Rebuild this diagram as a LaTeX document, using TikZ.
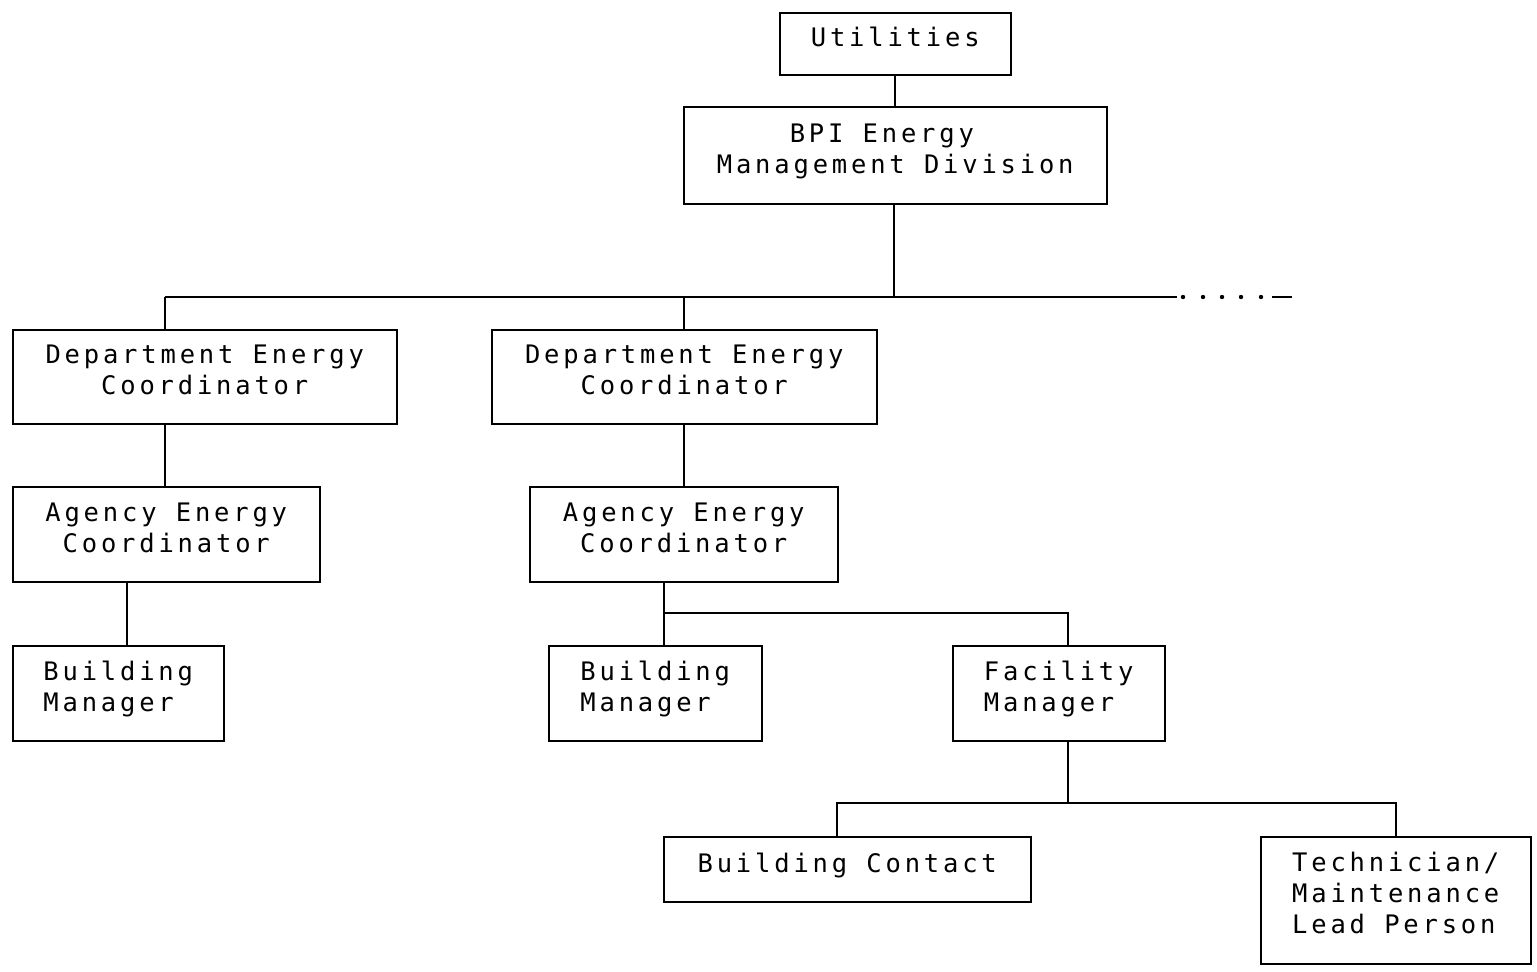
\documentclass[tikz,border=0pt]{standalone}
\usepackage{fontspec}
\newfontfamily\dotmx[LetterSpace=15]{DejaVu Sans Mono}
\tikzset{
  orgbox/.style={draw, line width=1.5pt, anchor=north west, inner sep=0pt,
    font=\dotmx\fontsize{25.5}{31}\selectfont,
    execute at end node={\rule[-14pt]{0pt}{14pt}}},
  conn/.style={line width=1.7pt},
}
\newcommand{\pad}[1]{\hphantom{#1}}
\begin{document}
\begin{tikzpicture}[x=1pt,y=-1pt]
\useasboundingbox (0,0) rectangle (1537,972);
% boxes
\node[orgbox, minimum width=231, minimum height=62, align=center] (util) at (779,12) {Utilities};
\node[orgbox, minimum width=423, minimum height=97, align=left] (bpi) at (683,106) {\pad{MMMM}BPI Energy\\Management Division};
\node[orgbox, minimum width=384, minimum height=94, align=center] (d1) at (12,329) {Department Energy\\Coordinator};
\node[orgbox, minimum width=385, minimum height=94, align=center] (d2) at (491,329) {Department Energy\\Coordinator};
\node[orgbox, minimum width=307, minimum height=95, align=center] (a1) at (12,486) {Agency Energy\\Coordinator};
\node[orgbox, minimum width=308, minimum height=95, align=center] (a2) at (529,486) {Agency Energy\\Coordinator};
\node[orgbox, minimum width=211, minimum height=95, align=left] (b1) at (12,645) {Building\\Manager};
\node[orgbox, minimum width=213, minimum height=95, align=left] (b2) at (548,645) {Building\\Manager};
\node[orgbox, minimum width=212, minimum height=95, align=left] (fm) at (952,645) {Facility\\Manager};
\node[orgbox, minimum width=367, minimum height=65, align=center] (bc) at (663,836) {Building Contact};
\node[orgbox, minimum width=270, minimum height=127, align=left] (tech) at (1260,836) {Technician/\\Maintenance\\Lead Person};
% coordinates
\coordinate (busL) at (165,297);
\coordinate (busM) at (894,297);
\coordinate (busE) at (1177,297);
\coordinate (dashA) at (1272,297);
\coordinate (dashB) at (1292,297);
\coordinate (k1) at (127,613);
\coordinate (k2) at (664,613);
\coordinate (k3) at (1068,613);
\coordinate (m1) at (837,803);
\coordinate (m2) at (1068,803);
\coordinate (m3) at (1396,803);
% connectors
\draw[conn] (util.south) -- (bpi.north);
\draw[conn] (bpi.south -| busM) -- (busM);
\draw[conn] (busL) -- (busE);
\draw[conn] (dashA) -- (dashB);
\foreach \xx in {1183,1203,1222,1241,1261} \fill (\xx,297) circle (2.2);
\draw[conn] (busL) -- (busL |- d1.north);
\draw[conn] (d2.north |- busL) -- (d2.north);
\draw[conn] (d1.south -| busL) -- (a1.north -| busL);
\draw[conn] (d2.south) -- (d2.south |- a2.north);
\draw[conn] (k1 |- a1.south) -- (k1 |- b1.north);
\draw[conn] (k2 |- a2.south) -- (k2 |- b2.north);
\draw[conn] (k2) -- (k3) -- (k3 |- fm.north);
\draw[conn] (m2 |- fm.south) -- (m2);
\draw[conn] (m1 |- bc.north) -- (m1) -- (m3) -- (m3 |- tech.north);
\end{tikzpicture}
\end{document}
